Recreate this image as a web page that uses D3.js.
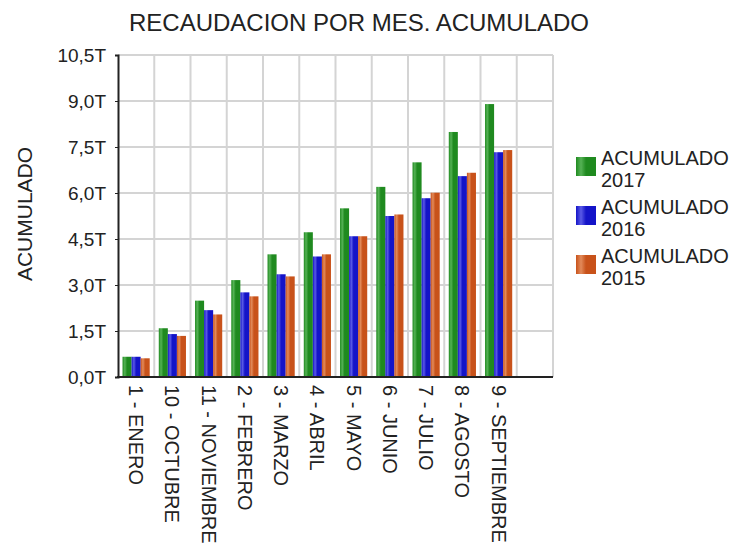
<!DOCTYPE html>
<html lang="es">

<head>
    <meta charset="UTF-8">
    <script src="https://d3js.org/d3.v7.min.js"></script>
    <title>Recaudacion por mes</title>
    <style>
        body { margin: 0; background: #fff; }
        text { font-family: "Liberation Sans", Arial, sans-serif; fill: #222; }
        .grid line { stroke: #d4d4d4; stroke-width: 2; }
    </style>
</head>

<body>
    <div id="chart"></div>
    <script>
        // Data
        const categories = ["1 - ENERO", "10 - OCTUBRE", "11 - NOVIEMBRE", "2 - FEBRERO", "3 - MARZO",
            "4 - ABRIL", "5 - MAYO", "6 - JUNIO", "7 - JULIO", "8 - AGOSTO", "9 - SEPTIEMBRE", ""];
        const seriesNames = ["ACUMULADO 2017", "ACUMULADO 2016", "ACUMULADO 2015"];
        const acum2017 = [0.66, 1.59, 2.49, 3.16, 4.00, 4.72, 5.50, 6.20, 7.00, 7.99, 8.90];
        const acum2016 = [0.66, 1.40, 2.18, 2.76, 3.35, 3.93, 4.59, 5.25, 5.83, 6.55, 7.33];
        const acum2015 = [0.61, 1.34, 2.04, 2.63, 3.28, 4.00, 4.59, 5.30, 6.01, 6.66, 7.40];
        const yTicks = [0, 1.5, 3, 4.5, 6, 7.5, 9, 10.5];
        const yTickLabels = ["0,0T", "1,5T", "3,0T", "4,5T", "6,0T", "7,5T", "9,0T", "10,5T"];

        const seriesValues = [acum2017, acum2016, acum2015];
        const colors = [
            { base: "#1f8a1f", light: "#55b255" },
            { base: "#1414c8", light: "#5a5ae6" },
            { base: "#c8521a", light: "#e28a5a" }
        ];

        const width = 735;
        const height = 544;
        const plot = { left: 118, right: 553, top: 55, bottom: 377 };

        const svg = d3.select("#chart")
            .append("svg")
            .attr("width", width)
            .attr("height", height);

        // Gradients for the bars
        const defs = svg.append("defs");
        colors.forEach((c, i) => {
            const g = defs.append("linearGradient")
                .attr("id", "grad" + i)
                .attr("x1", "0%").attr("x2", "100%")
                .attr("y1", "0%").attr("y2", "0%");
            g.append("stop").attr("offset", "0%").attr("stop-color", c.base);
            g.append("stop").attr("offset", "25%").attr("stop-color", c.light);
            g.append("stop").attr("offset", "50%").attr("stop-color", c.base);
            g.append("stop").attr("offset", "100%").attr("stop-color", c.base);
        });

        // Scales
        const x0 = d3.scaleBand()
            .domain(categories)
            .range([plot.left, plot.right])
            .paddingInner(0.25)
            .paddingOuter(0.125);

        const x1 = d3.scaleBand()
            .domain(seriesNames)
            .range([0, x0.bandwidth()]);

        const y = d3.scaleLinear()
            .domain([0, 10.5])
            .range([plot.bottom, plot.top]);

        // Grid
        const grid = svg.append("g").attr("class", "grid");
        grid.selectAll(".h")
            .data(yTicks.slice(1))
            .enter()
            .append("line")
            .attr("x1", plot.left)
            .attr("x2", plot.right)
            .attr("y1", d => y(d))
            .attr("y2", d => y(d));

        const step = x0.step();
        grid.selectAll(".v")
            .data(d3.range(1, categories.length + 1))
            .enter()
            .append("line")
            .attr("x1", i => plot.left + i * step)
            .attr("x2", i => plot.left + i * step)
            .attr("y1", plot.top)
            .attr("y2", plot.bottom);

        // Bars
        const groups = svg.append("g")
            .selectAll("g")
            .data(categories.filter((c, i) => i < acum2017.length))
            .enter()
            .append("g")
            .attr("transform", d => `translate(${x0(d)},0)`);

        groups.selectAll("rect")
            .data((d, i) => seriesNames.map((s, j) => ({ s, j, v: seriesValues[j][i] })))
            .enter()
            .append("rect")
            .attr("x", d => x1(d.s))
            .attr("width", x1.bandwidth())
            .attr("y", d => y(d.v))
            .attr("height", d => y(0) - y(d.v))
            .attr("fill", d => `url(#grad${d.j})`);

        // Axes
        const yAxis = svg.append("g")
            .attr("transform", `translate(${plot.left},0)`)
            .call(d3.axisLeft(y)
                .tickValues(yTicks)
                .tickSize(3)
                .tickPadding(9)
                .tickFormat((d, i) => yTickLabels[i]));
        yAxis.select(".domain").attr("stroke", "#222").attr("stroke-width", 2);
        yAxis.selectAll(".tick line").attr("stroke", "#222");
        yAxis.selectAll(".tick text")
            .style("font-size", "19px")
            .attr("fill", "#222");

        svg.append("line")
            .attr("x1", plot.left - 1)
            .attr("x2", plot.right)
            .attr("y1", plot.bottom)
            .attr("y2", plot.bottom)
            .attr("stroke", "#222")
            .attr("stroke-width", 2);

        // X labels (rotated)
        svg.append("g")
            .selectAll("text")
            .data(categories)
            .enter()
            .append("text")
            .attr("transform", d => `translate(${x0(d) + x0.bandwidth() / 2},${plot.bottom + 8}) rotate(90)`)
            .attr("dy", "0.35em")
            .style("font-size", "20px")
            .text(d => d);

        // Title
        svg.append("text")
            .attr("x", 359)
            .attr("y", 31)
            .attr("text-anchor", "middle")
            .style("font-size", "24px")
            .text("RECAUDACION POR MES. ACUMULADO");

        // Y axis title
        svg.append("text")
            .attr("transform", `translate(32,214) rotate(-90)`)
            .attr("text-anchor", "middle")
            .style("font-size", "21px")
            .text("ACUMULADO");

        // Legend
        const legend = svg.append("g")
            .selectAll("g")
            .data(seriesNames)
            .enter()
            .append("g")
            .attr("transform", (d, i) => `translate(576,${157 + i * 49})`);

        legend.append("rect")
            .attr("width", 20)
            .attr("height", 19)
            .attr("fill", (d, i) => `url(#grad${i})`);

        legend.append("text")
            .attr("x", 25)
            .attr("y", 8)
            .style("font-size", "20px")
            .text(d => d.split(" ")[0]);

        legend.append("text")
            .attr("x", 25)
            .attr("y", 30)
            .style("font-size", "20px")
            .text(d => d.split(" ")[1]);
    </script>
</body>

</html>
